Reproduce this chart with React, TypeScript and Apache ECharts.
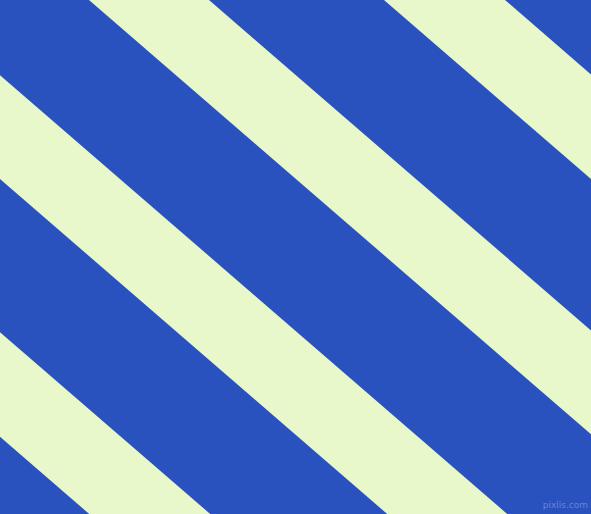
import React, { useEffect, useRef } from "react";
import * as echarts from "echarts";

// Stripe edges given as x-intercepts on the top edge (y = 0) of each light stripe
const stripeStarts = [-505, -207, 89, 384];
const stripeEnds = [-384, -87, 209, 505];
const slope = 0.865; // dy/dx of the stripes (descending to the right)
const width = 591;
const height = 514;
const blue = "#2a52be";
const light = "#e9f8ca";
const watermark = "pixlis.com";

export default function App() {
  const ref = useRef<HTMLDivElement>(null);
  useEffect(() => {
    if (!ref.current) return;
    const chart = echarts.init(ref.current, null, { renderer: "svg" });
    const data = stripeStarts.map((s, i) => [s, stripeEnds[i]]);
    chart.setOption({
      animation: false,
      backgroundColor: blue,
      grid: { left: 0, right: 0, top: 0, bottom: 0 },
      xAxis: { type: "value", min: 0, max: width, show: false },
      yAxis: { type: "value", min: 0, max: height, inverse: true, show: false },
      series: [
        {
          type: "custom",
          clip: true,
          data,
          renderItem: (params: any, api: any) => {
            const c1 = api.value(0);
            const c2 = api.value(1);
            const y0 = -60;
            const y1 = height + 60;
            const pts = [
              [c1 + y0 / slope, y0],
              [c2 + y0 / slope, y0],
              [c2 + y1 / slope, y1],
              [c1 + y1 / slope, y1],
            ].map((p) => api.coord(p));
            return {
              type: "polygon",
              shape: { points: pts },
              style: { fill: light, stroke: null },
            };
          },
        },
      ],
      graphic: [
        {
          type: "text",
          right: 3,
          bottom: 5,
          style: {
            text: watermark,
            fill: "#6684d8",
            font: "9px 'DejaVu Sans', sans-serif",
          },
        },
      ],
    });
    return () => chart.dispose();
  }, []);
  return (
    <div
      ref={ref}
      style={{ position: "fixed", left: 0, top: 0, width: width, height: height }}
    />
  );
}
